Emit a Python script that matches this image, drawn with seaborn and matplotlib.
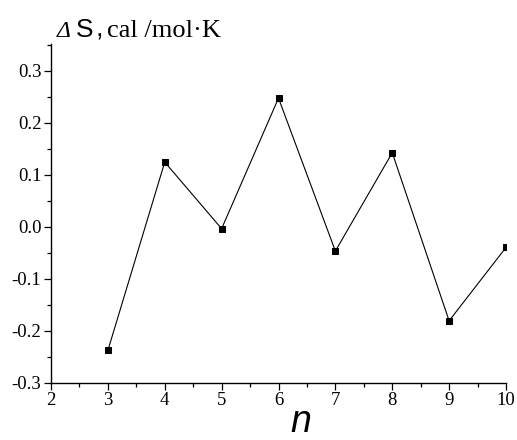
import matplotlib
matplotlib.use("Agg")
import matplotlib.pyplot as plt
import seaborn as sns
import pandas as pd
from matplotlib.ticker import MultipleLocator

n_values = [3, 4, 5, 6, 7, 8, 9, 10]
dS_values = [-0.238, 0.124, -0.004, 0.247, -0.047, 0.142, -0.181, -0.040]
x_ticks = [2, 3, 4, 5, 6, 7, 8, 9, 10]
y_ticks = [-0.3, -0.2, -0.1, 0.0, 0.1, 0.2, 0.3]
y_tick_labels = ["-0.3", "-0.2", "-0.1", "0.0", "0.1", "0.2", "0.3"]

df = pd.DataFrame({"n": n_values, "dS": dS_values})

sns.set_style("ticks")
plt.rcParams["font.family"] = ["Liberation Serif", "DejaVu Serif"]
plt.rcParams["text.color"] = "black"

W, H = 517, 440
fig = plt.figure(figsize=(W / 100, H / 100), dpi=100)
ax = fig.add_axes([51 / W, 1 - 382.7 / H, (506 - 51) / W, (382.7 - 44) / H])

sns.lineplot(data=df, x="n", y="dS", ax=ax, color="black", linewidth=0.8,
             marker="s", markersize=5, markeredgecolor="black",
             markerfacecolor="black")

ax.set_xlim(2, 10)
ax.set_ylim(-0.3, 0.351)
ax.set_xticks(x_ticks)
ax.set_yticks(y_ticks)
ax.set_yticklabels(y_tick_labels)
ax.xaxis.set_minor_locator(MultipleLocator(0.5))
ax.yaxis.set_minor_locator(MultipleLocator(0.05))
ax.tick_params(which="major", direction="out", length=5, width=0.9,
               labelsize=13.5, pad=2, colors="black")
ax.tick_params(which="minor", direction="out", length=2.6, width=0.9,
               colors="black")
ax.set_xlabel("")
ax.set_ylabel("")
sns.despine(ax=ax)
for s in ["left", "bottom"]:
    ax.spines[s].set_linewidth(1.0)
    ax.spines[s].set_color("black")

# y-axis title pieces
base = 1 - 37 / H
fig.text(57 / W, base, "\u0394", family="Liberation Serif", style="italic",
         fontsize=17, va="baseline", ha="left", color="black")
fig.text(76 / W, base, "S", family="Liberation Sans", fontsize=19,
         va="baseline", ha="left", color="black")
fig.text(96 / W, base, ",", family="Liberation Sans", fontsize=19,
         va="baseline", ha="left", color="black")
fig.text(107 / W, base, "cal /mol\u00b7K", family="Liberation Serif",
         fontsize=19, va="baseline", ha="left", color="black")

# x-axis title
fig.text(301 / W, 1 - 432 / H, "n", family="Liberation Sans", style="italic",
         fontsize=27, va="baseline", ha="center", color="black")

fig.savefig("out.png", dpi=100)
